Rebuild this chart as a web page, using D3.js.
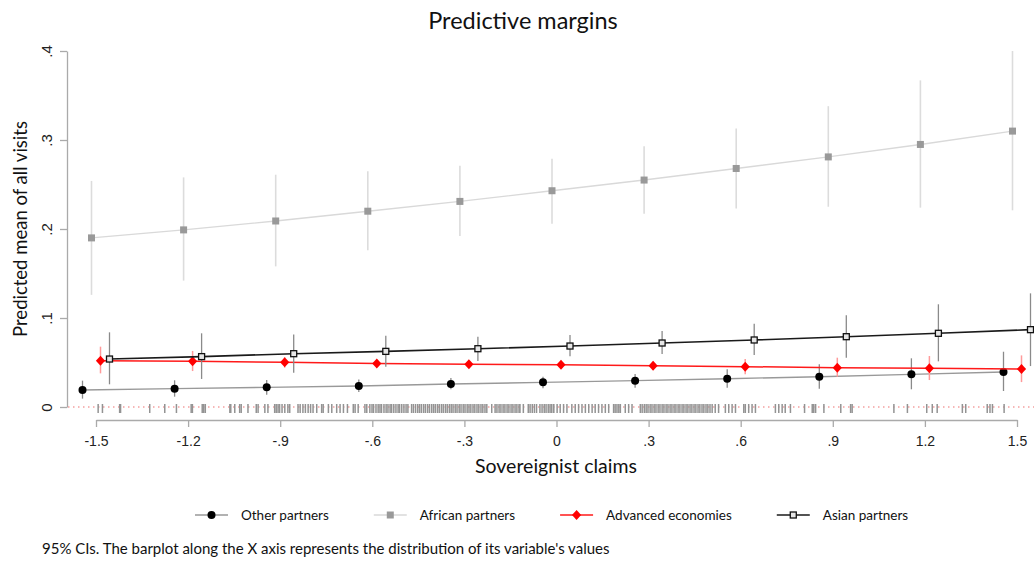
<!DOCTYPE html>
<html><head><meta charset="utf-8">
<script src="https://cdn.jsdelivr.net/npm/d3@7"></script>
<style>
body{margin:0;background:#fff;}
svg{display:block;font-family:Lato, "Open Sans", sans-serif;}
</style></head>
<body><svg id="c" width="1034" height="561"></svg>
<script>
const xValues = [-1.5,-1.2,-0.9,-0.6,-0.3,0,0.3,0.6,0.9,1.2,1.5];
const xTickLabels = ["-1.5","-1.2","-.9","-.6","-.3","0",".3",".6",".9","1.2","1.5"];
const yTicks = [0,0.1,0.2,0.3,0.4];
const yTickLabels = ["0",".1",".2",".3",".4"];
const seriesNames = ["Other partners","African partners","Advanced economies","Asian partners"];

const otherMean = [0.0191,0.0206,0.0221,0.0236,0.0258,0.0277,0.0296,0.0318,0.034,0.0367,0.0393];
const otherLo   = [0.0094,0.0116,0.0139,0.0169,0.0199,0.021,0.0217,0.0217,0.0206,0.0199,0.018];
const otherHi   = [0.0296,0.030,0.0303,0.031,0.0326,0.034,0.0371,0.0423,0.048,0.0547,0.0621];

const africanMean = [0.190,0.199,0.209,0.220,0.231,0.243,0.255,0.268,0.281,0.295,0.310];
const africanLo   = [0.126,0.142,0.158,0.176,0.192,0.206,0.217,0.223,0.225,0.224,0.221];
const africanHi   = [0.254,0.258,0.261,0.265,0.271,0.279,0.293,0.313,0.338,0.367,0.400];

const advancedMean = [0.052,0.0513,0.0502,0.049,0.048,0.0475,0.0464,0.0453,0.0442,0.0434,0.0427];
const advancedLo   = [0.0378,0.0404,0.0442,0.045,0.0447,0.0445,0.042,0.0367,0.034,0.0303,0.028];
const advancedHi   = [0.0678,0.063,0.0558,0.053,0.0513,0.0505,0.051,0.054,0.0554,0.0573,0.058];

const asianMean = [0.0539,0.0566,0.0599,0.0625,0.0655,0.0685,0.0719,0.0753,0.079,0.0828,0.0869];
const asianLo   = [0.0255,0.0315,0.0386,0.0453,0.0517,0.0569,0.0596,0.0584,0.0554,0.0513,0.046];
const asianHi   = [0.0839,0.0828,0.0816,0.080,0.079,0.0809,0.0854,0.0936,0.103,0.1154,0.1277];

const rugValues = [-1.493,-1.479,-1.423,-1.420,-1.325,-1.276,-1.238,-1.190,-1.186,-1.154,-1.149,-1.144,
 -1.064,-1.061,-1.048,-1.032,-1.027,-1.005,-0.978,-0.972,-0.950,-0.940,-0.918,-0.913,-0.907,-0.902,
 -0.894,-0.885,-0.875,-0.869,-0.842,-0.835,-0.826,-0.818,-0.809,-0.801,-0.793,-0.781,-0.765,-0.760,
 -0.743,-0.732,-0.716,-0.705,-0.694,-0.681,-0.662,-0.656,-0.646,-0.624,-0.618,
 -0.608,-0.601,-0.596,-0.588,-0.581,-0.575,-0.570,-0.562,-0.555,-0.549,-0.542,-0.537,-0.530,-0.523,
 -0.516,-0.511,-0.504,-0.497,-0.490,-0.484,-0.472,-0.466,-0.459,-0.452,-0.446,-0.440,-0.433,-0.427,
 -0.420,-0.414,-0.407,-0.401,-0.395,-0.388,-0.382,-0.375,-0.369,-0.362,-0.356,-0.349,-0.343,-0.337,
 -0.330,-0.324,-0.317,-0.311,-0.304,-0.298,-0.291,-0.285,-0.279,-0.272,-0.266,-0.259,-0.253,-0.246,
 -0.240,-0.233,-0.227,-0.211,-0.200,-0.194,-0.187,-0.181,-0.174,-0.168,-0.161,-0.155,-0.148,-0.142,
 -0.135,-0.129,-0.122,-0.119,-0.108,-0.092,-0.086,-0.079,-0.072,-0.065,-0.054,-0.047,-0.040,-0.034,
 -0.027,-0.021,-0.016,-0.010,-0.009,0.002,0.012,0.023,0.034,0.050,0.061,0.072,0.083,0.094,0.105,
 0.116,0.126,0.137,0.148,0.159,0.170,0.186,0.191,0.197,0.203,0.208,0.224,0.235,0.246,
 0.273,0.279,0.286,0.292,0.298,0.305,0.311,0.318,0.324,0.331,0.337,0.344,0.350,0.357,0.363,0.370,
 0.376,0.383,0.389,0.396,0.402,0.409,0.415,0.422,0.428,0.435,0.441,0.448,0.454,0.461,0.467,0.474,
 0.480,0.487,0.493,0.500,0.507,0.517,0.528,0.550,0.561,0.572,0.583,0.610,0.615,0.626,0.637,0.648,
 0.713,0.724,0.735,0.745,0.762,0.808,0.833,0.838,0.844,0.871,0.926,0.958,0.963,1.099,1.143,1.206,
 1.224,1.240,1.322,1.333,1.403,1.412,1.420,1.458];

const series = [
  {name:seriesNames[0], mean:otherMean, lo:otherLo, hi:otherHi, dx:-13.5, line:"#999", lw:1.4, ci:"#8a8a8a", ciw:1.3, marker:"circle", mfill:"#000", mstroke:"none"},
  {name:seriesNames[1], mean:africanMean, lo:africanLo, hi:africanHi, dx:-4.5, line:"#d9d9d9", lw:1.4, ci:"#dcdcdc", ciw:1.6, marker:"square", mfill:"#999", mstroke:"none"},
  {name:seriesNames[2], mean:advancedMean, lo:advancedLo, hi:advancedHi, dx:4.5, line:"#ff1a1a", lw:1.5, ci:"#ff9a9a", ciw:1.5, marker:"diamond", mfill:"#ff0000", mstroke:"none"},
  {name:seriesNames[3], mean:asianMean, lo:asianLo, hi:asianHi, dx:13.5, line:"#1a1a1a", lw:1.6, ci:"#8a8a8a", ciw:1.3, marker:"osquare", mfill:"#e6e6e6", mstroke:"#111"}
];

const svg = d3.select("#c");
const x = d3.scaleLinear().domain([-1.5,1.5]).range([96,1017]);
const y = d3.scaleLinear().domain([0,0.4]).range([407,51]);

// title
svg.append("text").attr("x",523).attr("y",20).attr("text-anchor","middle").attr("dominant-baseline","central")
  .attr("font-size",23.5).attr("fill","#111").text("Predictive margins");

// y axis
const yAxis = svg.append("g").attr("transform","translate(67,0)")
  .call(d3.axisLeft(y).tickValues(yTicks).tickSize(7).tickSizeOuter(0).tickFormat((d,i)=>yTickLabels[i]));
yAxis.select(".domain").attr("stroke","#aaa").attr("stroke-width",1.3);
yAxis.selectAll(".tick line").attr("stroke","#aaa").attr("stroke-width",1.3);
yAxis.selectAll(".tick text").attr("font-size",15).attr("fill","#222")
  .attr("x",0).attr("dy",null).attr("text-anchor","middle").attr("dominant-baseline","central")
  .attr("transform","translate(-21,0) rotate(-90)");

// y label
svg.append("text").attr("transform","translate(20,229) rotate(-90)").attr("text-anchor","middle")
  .attr("dominant-baseline","central").attr("font-size",18.5).attr("fill","#111").text("Predicted mean of all visits");

// x axis
const xAxis = svg.append("g").attr("transform","translate(0,420)")
  .call(d3.axisBottom(x).tickValues(xValues).tickSize(7).tickSizeOuter(0).tickFormat((d,i)=>xTickLabels[i]));
xAxis.select(".domain").attr("stroke","#aaa").attr("stroke-width",1.3);
xAxis.selectAll(".tick line").attr("stroke","#aaa").attr("stroke-width",1.3);
xAxis.selectAll(".tick text").attr("font-size",14).attr("fill","#222").attr("y",16);

svg.append("text").attr("x",556).attr("y",465).attr("text-anchor","middle").attr("dominant-baseline","central")
  .attr("font-size",19.5).attr("fill","#111").text("Sovereignist claims");

// zero dotted line
svg.append("line").attr("x1",68).attr("x2",1034).attr("y1",y(0)).attr("y2",y(0))
  .attr("stroke","#f4a0a0").attr("stroke-width",1.3).attr("stroke-dasharray","1.5,3.5");

// rug
svg.append("g").selectAll("line").data(rugValues).join("line")
  .attr("x1",d=>x(d)).attr("x2",d=>x(d)).attr("y1",404).attr("y2",413)
  .attr("stroke","#939393").attr("stroke-width",1.5);

function drawMarker(g, s, cx, cy){
  if(s.marker==="circle") g.append("circle").attr("cx",cx).attr("cy",cy).attr("r",4).attr("fill",s.mfill);
  else if(s.marker==="square") g.append("rect").attr("x",cx-3.5).attr("y",cy-3.5).attr("width",7).attr("height",7).attr("fill",s.mfill);
  else if(s.marker==="diamond") g.append("path").attr("d",`M${cx},${cy-5}L${cx+4.6},${cy}L${cx},${cy+5}L${cx-4.6},${cy}Z`).attr("fill",s.mfill);
  else g.append("rect").attr("x",cx-3).attr("y",cy-3).attr("width",6).attr("height",6).attr("fill",s.mfill).attr("stroke",s.mstroke).attr("stroke-width",1.3);
}

series.forEach(s=>{
  const g = svg.append("g");
  const pts = xValues.map((v,i)=>({x:x(v)+s.dx, m:s.mean[i], lo:s.lo[i], hi:s.hi[i]}));
  g.selectAll("line.ci").data(pts).join("line").attr("class","ci")
    .attr("x1",d=>d.x).attr("x2",d=>d.x).attr("y1",d=>y(d.lo)).attr("y2",d=>y(d.hi))
    .attr("stroke",s.ci).attr("stroke-width",s.ciw);
  g.append("path").datum(pts).attr("fill","none").attr("stroke",s.line).attr("stroke-width",s.lw)
    .attr("d",d3.line().x(d=>d.x).y(d=>y(d.m)));
  pts.forEach(p=>drawMarker(g,s,p.x,y(p.m)));
});

// legend
let lx = 195;
const ly = 515;
series.forEach(s=>{
  const g = svg.append("g");
  g.append("line").attr("x1",lx).attr("x2",lx+33).attr("y1",ly).attr("y2",ly).attr("stroke",s.line).attr("stroke-width",s.lw);
  drawMarker(g,s,lx+16.5,ly);
  const t = g.append("text").attr("x",lx+46).attr("y",ly).attr("dominant-baseline","central")
    .attr("font-size",13.5).attr("fill","#111").text(s.name);
  lx += 46 + t.node().getComputedTextLength() + 45;
});

svg.append("text").attr("x",42).attr("y",548).attr("dominant-baseline","central")
  .attr("font-size",15).attr("fill","#111")
  .text("95% CIs. The barplot along the X axis represents the distribution of its variable's values");
</script></body></html>
